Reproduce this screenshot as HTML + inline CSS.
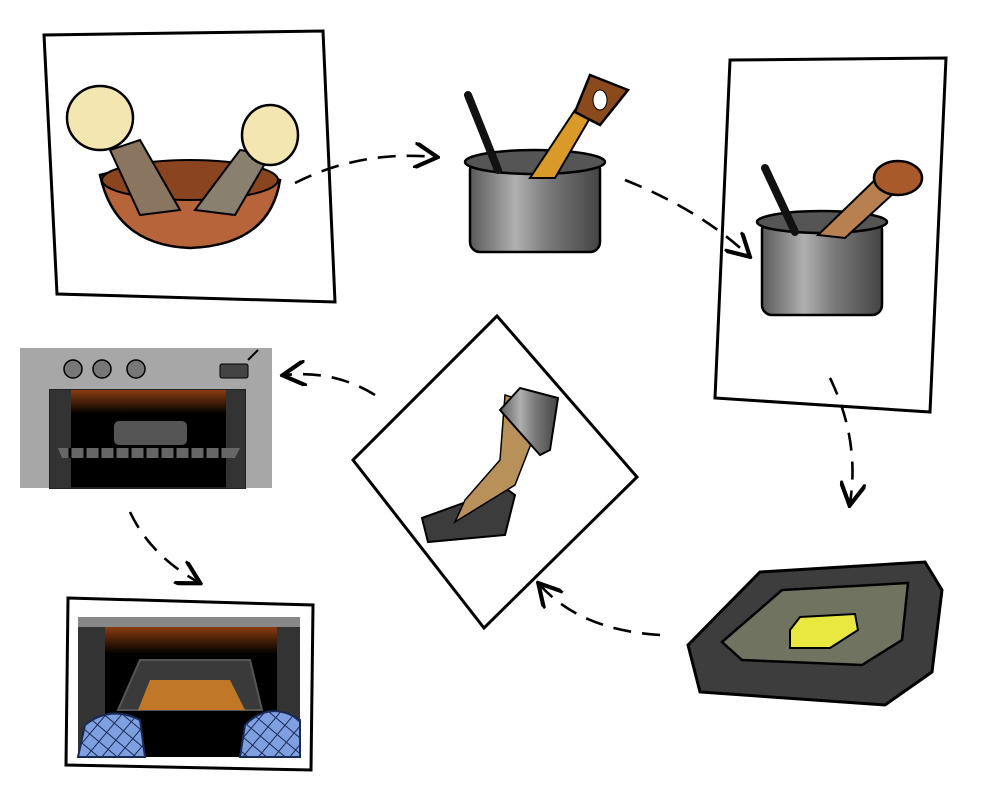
<!DOCTYPE html>
<html><head><meta charset="utf-8"><style>html,body{margin:0;padding:0;background:#fff}svg{display:block}</style></head>
<body>
<svg width="1000" height="800" viewBox="0 0 1000 800" xmlns="http://www.w3.org/2000/svg">
<defs>
<linearGradient id="pot" x1="0" x2="1"><stop offset="0" stop-color="#5a5a5a"/><stop offset=".35" stop-color="#b0b0b0"/><stop offset=".6" stop-color="#7a7a7a"/><stop offset="1" stop-color="#444"/></linearGradient>
<linearGradient id="glow" x1="0" y1="0" x2="0" y2="1"><stop offset="0" stop-color="#8a3c10"/><stop offset=".6" stop-color="#000"/></linearGradient>
<pattern id="check" width="12" height="12" patternUnits="userSpaceOnUse" patternTransform="rotate(40)"><rect width="12" height="12" fill="#7fa0e0"/><path d="M0 0H12M0 0V12" stroke="#1a2a55" stroke-width="2"/></pattern>
<marker id="ah" markerWidth="10" markerHeight="10" refX="8" refY="5" orient="auto"><path d="M0 0L9 5L0 10" fill="none" stroke="#000" stroke-width="1.6"/></marker>
</defs>

<polygon points="44,35 323,31 335,302 57,294" fill="#fff" stroke="#000" stroke-width="3"/>
<path d="M100,175 Q190,150 280,180 Q270,245 190,248 Q115,245 100,175Z" fill="#b8643a" stroke="#000" stroke-width="2.5"/>
<ellipse cx="190" cy="180" rx="88" ry="20" fill="#8a4520" stroke="#000" stroke-width="2"/>
<path d="M110,150 L140,215 L180,210 L140,140Z" fill="#8a7560" stroke="#000" stroke-width="2"/>
<path d="M240,150 L195,210 L235,215 L270,155Z" fill="#8a8070" stroke="#000" stroke-width="2"/>
<ellipse cx="100" cy="118" rx="33" ry="32" fill="#f3e6b0" stroke="#000" stroke-width="2.5"/>
<ellipse cx="270" cy="135" rx="28" ry="30" fill="#f3e6b0" stroke="#000" stroke-width="2.5"/>

<rect x="470" y="160" width="130" height="92" rx="10" fill="url(#pot)" stroke="#000" stroke-width="2.5"/>
<ellipse cx="535" cy="162" rx="70" ry="12" fill="#555" stroke="#000" stroke-width="2.5"/>
<path d="M468,95 L498,170" stroke="#111" stroke-width="8" stroke-linecap="round"/>
<path d="M530,178 L575,110 L590,118 L555,178Z" fill="#d99a2a" stroke="#000" stroke-width="2"/>
<path d="M575,112 L590,75 L628,90 L600,125Z" fill="#8a4a1c" stroke="#000" stroke-width="2.5"/>
<ellipse cx="600" cy="100" rx="7" ry="10" fill="#fff" stroke="#000"/>

<polygon points="730,60 946,58 930,412 715,398" fill="#fff" stroke="#000" stroke-width="3"/>
<rect x="762" y="220" width="120" height="95" rx="10" fill="url(#pot)" stroke="#000" stroke-width="2.5"/>
<ellipse cx="822" cy="222" rx="65" ry="11" fill="#555" stroke="#000" stroke-width="2.5"/>
<path d="M765,168 L795,232" stroke="#111" stroke-width="8" stroke-linecap="round"/>
<path d="M818,235 L880,175 L895,192 L845,238Z" fill="#b88050" stroke="#000" stroke-width="2"/>
<ellipse cx="898" cy="178" rx="24" ry="17" fill="#a85a2a" stroke="#000" stroke-width="2.5"/>

<rect x="20" y="348" width="252" height="140" fill="#a7a7a7"/>
<rect x="50" y="390" width="195" height="98" fill="#000" stroke="#222" stroke-width="2"/>
<rect x="71" y="390" width="155" height="40" fill="url(#glow)"/>
<rect x="50" y="390" width="21" height="98" fill="#333"/><rect x="226" y="390" width="19" height="98" fill="#333"/>
<rect x="113" y="420" width="75" height="26" rx="6" fill="#555" stroke="#000" stroke-width="2"/>
<path d="M58,448 L240,448 L235,458 L62,458Z" fill="#666"/>
<path d="M70,448V458M85,448V458M100,448V458M115,448V458M130,448V458M145,448V458M160,448V458M175,448V458M190,448V458M205,448V458M220,448V458" stroke="#000" stroke-width="3"/>
<circle cx="73" cy="369" r="9" fill="#777" stroke="#000" stroke-width="1.5"/>
<circle cx="102" cy="369" r="9" fill="#777" stroke="#000" stroke-width="1.5"/>
<circle cx="136" cy="369" r="9" fill="#777" stroke="#000" stroke-width="1.5"/>
<rect x="220" y="364" width="28" height="14" rx="2" fill="#444" stroke="#000"/>

<polygon points="497,316 637,477 484,628 353,460" fill="#fff" stroke="#000" stroke-width="3"/>
<path d="M422,518 L505,488 L515,495 L505,535 L428,542Z" fill="#3c3c3c" stroke="#000" stroke-width="2"/>
<path d="M505,395 L545,408 L515,485 L455,522 L465,500 L500,460Z" fill="#b8905a" stroke="#000" stroke-width="1.5"/>
<path d="M500,410 L520,388 L558,398 L550,450 L540,455Z" fill="url(#pot)" stroke="#000" stroke-width="2"/>

<path d="M688,645 L760,572 L925,562 L942,590 L932,672 L885,705 L700,692 Z" fill="#3d3d3d" stroke="#000" stroke-width="3"/>
<path d="M722,642 L782,590 L908,583 L902,640 L862,665 L742,660Z" fill="#6f7360" stroke="#000" stroke-width="2.5"/>
<path d="M790,630 L800,617 L855,614 L858,630 L830,648 L790,648Z" fill="#e8e840" stroke="#000" stroke-width="2"/>

<polygon points="68,598 313,605 311,770 66,765" fill="#fff" stroke="#000" stroke-width="3"/>
<rect x="78" y="617" width="222" height="140" fill="#000"/>
<rect x="78" y="617" width="222" height="10" fill="#888"/>
<rect x="105" y="627" width="172" height="45" fill="url(#glow)"/>
<rect x="78" y="627" width="27" height="130" fill="#333"/><rect x="277" y="627" width="23" height="130" fill="#333"/>
<path d="M118,710 L140,660 L250,660 L262,710Z" fill="#3a3a3a" stroke="#555" stroke-width="2"/>
<path d="M138,710 L150,680 L230,680 L245,710Z" fill="#c07828"/>
<path d="M78,757 L85,725 Q110,705 140,720 L145,757Z" fill="url(#check)" stroke="#1a2a55" stroke-width="2"/>
<path d="M300,757 L300,720 Q270,700 245,725 L240,757Z" fill="url(#check)" stroke="#1a2a55" stroke-width="2"/>

<g fill="none" stroke="#000" stroke-width="2.6" stroke-dasharray="18,11">
<path d="M295,183 Q360,150 435,157" marker-end="url(#ah)"/>
<path d="M625,180 Q700,210 748,255" marker-end="url(#ah)"/>
<path d="M830,378 Q860,440 850,503" marker-end="url(#ah)"/>
<path d="M660,635 Q580,630 540,585" marker-end="url(#ah)"/>
<path d="M375,395 Q335,370 285,375" marker-end="url(#ah)"/>
<path d="M130,512 Q150,555 198,582" marker-end="url(#ah)"/>
</g>
<path d="M248,360 L258,350" stroke="#000" stroke-width="2"/>
</svg>
</body></html>
